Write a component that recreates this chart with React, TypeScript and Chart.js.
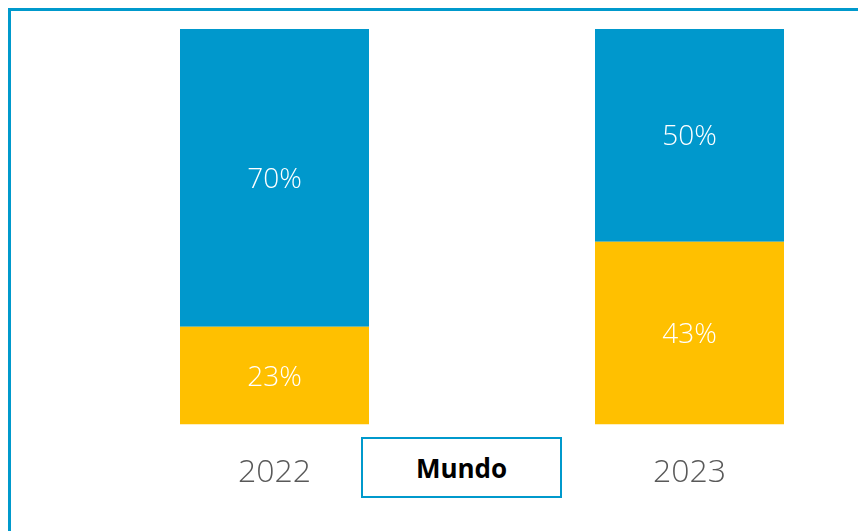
import React, { useEffect, useRef } from "react";
import { Chart, registerables } from "chart.js";

Chart.register(...registerables);

const categories = ["2022", "2023"];
const yellowValues = [23, 43];
const blueValues = [70, 50];
const yMax = 93;

const BLUE = "#0098CC";
const YELLOW = "#FFC000";
const FONT = "'Open Sans', 'DejaVu Sans', sans-serif";

const labelPlugin = {
  id: "segLabels",
  afterDatasetsDraw(chart: any) {
    const ctx = chart.ctx;
    ctx.save();
    ctx.fillStyle = "#FFFFFF";
    ctx.font = `300 28px ${FONT}`;
    ctx.textAlign = "center";
    ctx.textBaseline = "middle";
    chart.data.datasets.forEach((ds: any, di: number) => {
      const meta = chart.getDatasetMeta(di);
      meta.data.forEach((bar: any, i: number) => {
        const { x, y, base } = bar.getProps(["x", "y", "base"], true);
        ctx.fillText(`${ds.data[i]}%`, x, (y + base) / 2 + 2);
      });
    });
    ctx.restore();
  },
};

export default function App() {
  const ref = useRef<HTMLCanvasElement>(null);
  useEffect(() => {
    if (!ref.current) return;
    const chart = new Chart(ref.current, {
      type: "bar",
      data: {
        labels: categories,
        datasets: [
          { label: "A", data: yellowValues, backgroundColor: YELLOW, borderWidth: 0 },
          { label: "B", data: blueValues, backgroundColor: BLUE, borderWidth: 0 },
        ],
      },
      options: {
        animation: false,
        responsive: false,
        maintainAspectRatio: false,
        layout: { padding: { left: 56, right: 14, top: 18, bottom: 10 } },
        datasets: { bar: { categoryPercentage: 1, barPercentage: 189 / 415 } },
        plugins: { legend: { display: false }, tooltip: { enabled: false } },
        scales: {
          x: {
            stacked: true,
            grid: { display: false, drawTicks: false },
            border: { display: false },
            ticks: {
              color: "#595959",
              font: { family: FONT, size: 32, weight: "300" as any },
              padding: 29,
            },
          },
          y: {
            stacked: true,
            display: false,
            min: 0,
            max: yMax,
          },
        },
      },
      plugins: [labelPlugin],
    });
    return () => chart.destroy();
  }, []);

  return (
    <div
      style={{
        position: "relative",
        width: 855,
        height: 520,
        borderTop: "3px solid #0099CC",
        borderLeft: "3px solid #0099CC",
        overflow: "hidden",
        background: "#fff",
      }}
    >
      <canvas
        ref={ref}
        width={900}
        height={520}
        style={{ position: "absolute", left: 0, top: 0, width: 900, height: 520 }}
      />
      <div
        style={{
          position: "absolute",
          left: 350,
          top: 426,
          width: 201,
          height: 61,
          boxSizing: "border-box",
          border: "2px solid #0099CC",
          display: "flex",
          alignItems: "center",
          justifyContent: "center",
          fontFamily: FONT,
          fontWeight: 700,
          fontSize: 26,
          color: "#000",
          background: "#fff",
        }}
      >
        Mundo
      </div>
    </div>
  );
}
